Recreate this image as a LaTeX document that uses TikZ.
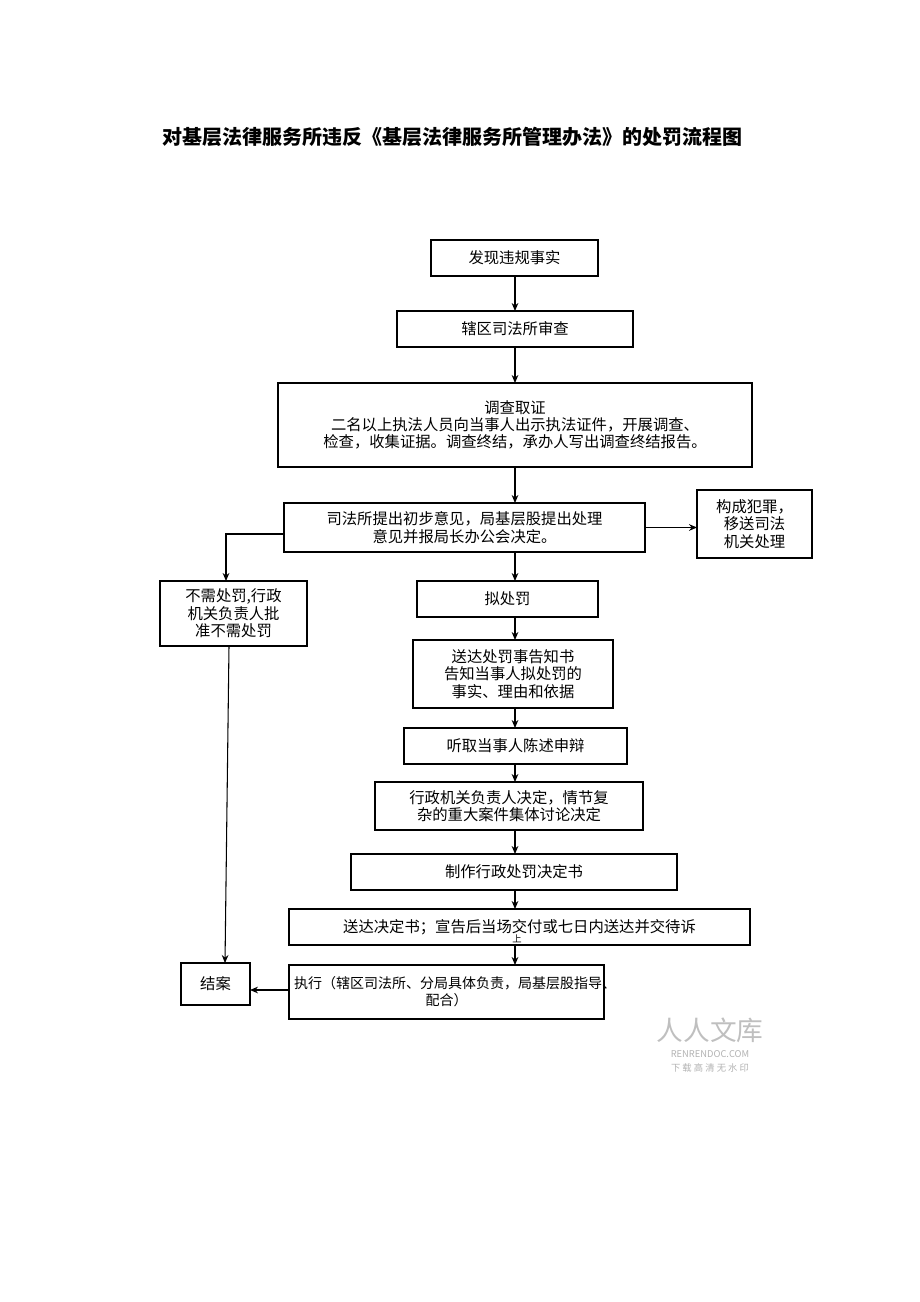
\documentclass[tikz,border=0pt]{standalone}
\usepackage{fontspec}
\setmainfont{Noto Sans CJK SC}
\usetikzlibrary{arrows.meta}
\begin{document}
\begin{tikzpicture}[x=0.75pt,y=-0.75pt,
 bx/.style={draw,thick,align=center,inner sep=1pt,outer sep=0pt,font=\fontsize{11.5pt}{13pt}\selectfont},
 ar/.style={-{Stealth[length=6pt,width=5pt]},thick}]
\useasboundingbox (0,0) rectangle (920,1302);
\node[font=\bfseries\fontsize{15pt}{17pt}\selectfont] (t) at (452,137) {对基层法律服务所违反《基层法律服务所管理办法》的处罚流程图};
\newcommand\bb[6]{\node[bx,minimum width={(#4-#2)*0.75pt},minimum height={(#5-#3)*0.75pt}] (#1) at ({(#2+#4)/2},{(#3+#5)/2}) {#6};}
\bb{a}{431}{240}{598}{276}{发现违规事实}
\bb{b}{397}{311}{633}{347}{辖区司法所审查}
\bb{c}{278}{383}{752}{467}{调查取证\\二名以上执法人员向当事人出示执法证件，开展调查、\\检查，收集证据。调查终结，承办人写出调查终结报告。}
\bb{d}{284}{503}{645}{552}{司法所提出初步意见，局基层股提出处理\\意见并报局长办公会决定。}
\bb{e}{697}{490}{812}{558}{构成犯罪，\\移送司法\\机关处理}
\bb{f}{160}{581}{307}{646}{不需处罚,行政\\机关负责人批\\准不需处罚}
\bb{g}{417}{581}{598}{617}{拟处罚}
\bb{h}{413}{640}{613}{708}{送达处罚事告知书\\告知当事人拟处罚的\\事实、理由和依据}
\bb{i}{404}{728}{627}{764}{听取当事人陈述申辩}
\bb{j}{375}{782}{643}{830}{行政机关负责人决定，情节复\\杂的重大案件集体讨论决定}
\bb{k}{351}{854}{677}{890}{制作行政处罚决定书}
\bb{l}{289}{909}{750}{945}{送达决定书；宣告后当场交付或七日内送达并交待诉}
\bb{m}{181}{963}{250}{1005}{结案}
\node[bx,minimum width={315*0.75pt},minimum height={54*0.75pt},text width={305*0.75pt},font=\fontsize{10.5pt}{13pt}\selectfont] (n) at (446.5,992) {执行（辖区司法所、分局具体负责，局基层股指导、\\配合）};
\node[font=\fontsize{7pt}{8pt}\selectfont,inner sep=0] at (517,939) {上};
\coordinate (cx) at (515,0);
\coordinate (dl) at (284,534);
\coordinate (dk) at (226,534);
\coordinate (fb) at (229,646);
\draw[ar] (a.south -| cx) -- (b.north -| cx);
\draw[ar] (b.south -| cx) -- (c.north -| cx);
\draw[ar] (c.south -| cx) -- (d.north -| cx);
\draw[ar] (d.east) -- (e.west |- d.east);
\draw[ar] (d.south -| cx) -- (g.north -| cx);
\draw[ar] (g.south -| cx) -- (h.north -| cx);
\draw[ar] (h.south -| cx) -- (i.north -| cx);
\draw[ar] (i.south -| cx) -- (j.north -| cx);
\draw[ar] (j.south -| cx) -- (k.north -| cx);
\draw[ar] (k.south -| cx) -- (l.north -| cx);
\draw[ar] (l.south -| cx) -- (n.north -| cx);
\draw[ar] (dl) -- (dk) -- (f.north -| dk);
\draw[ar] (fb) -- (m.north -| 225,0);
\draw[ar] (n.west |- 0,990) -- (m.east |- 0,990);
\node[text=black!25,font=\fontsize{20pt}{22pt}\selectfont] at (710,1030) {人人文库};
\node[text=black!30,font=\fontsize{7pt}{8pt}\selectfont] at (710,1054) {RENRENDOC.COM};
\node[text=black!30,font=\fontsize{7pt}{8pt}\selectfont] at (710,1068) {下 载 高 清 无 水 印};
\end{tikzpicture}
\end{document}
